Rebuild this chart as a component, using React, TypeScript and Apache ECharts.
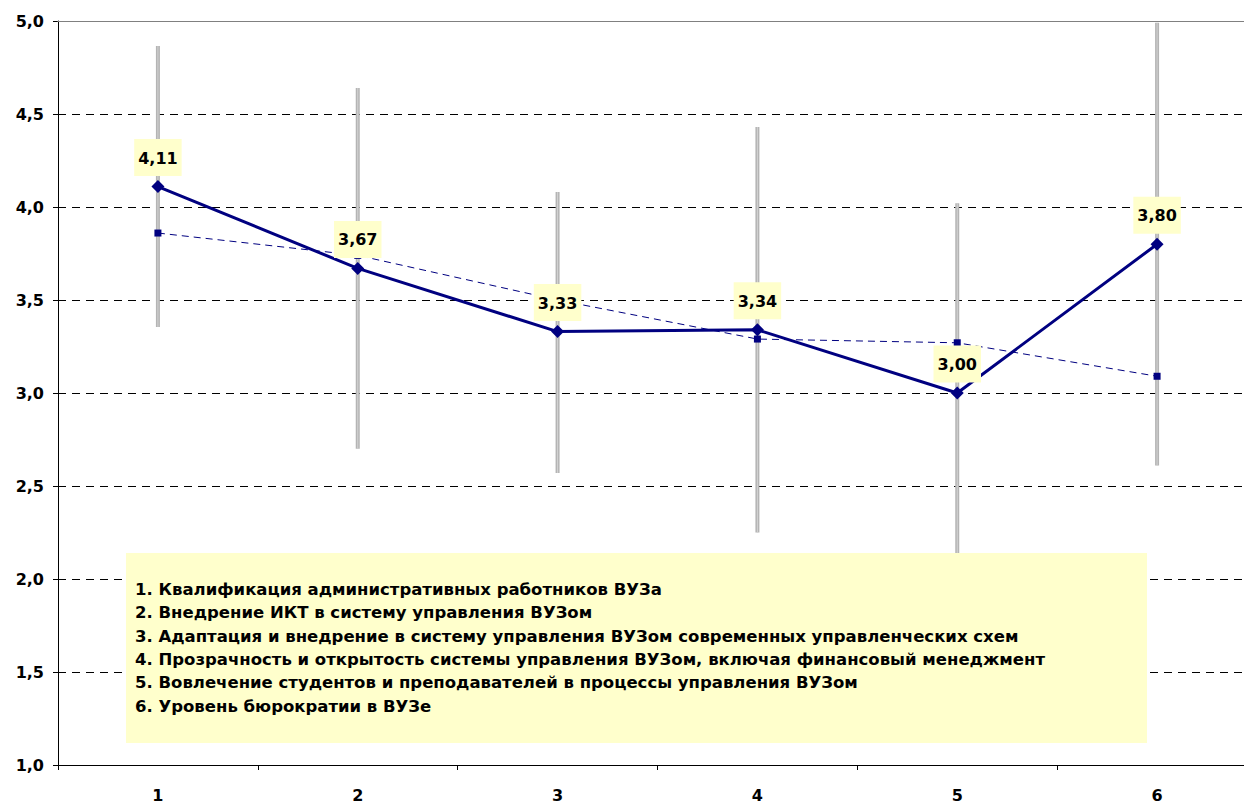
import React, { useEffect, useRef } from "react";
import * as echarts from "echarts";

const categories = ["1", "2", "3", "4", "5", "6"];
const meanValues = [4.11, 3.67, 3.33, 3.34, 3.0, 3.8];
const refValues = [3.86, 3.74, 3.5, 3.29, 3.27, 3.09];
const errLow = [3.355, 2.7, 2.57, 2.25, 1.98, 2.61];
const errHigh = [4.865, 4.64, 4.08, 4.43, 4.02, 4.99];
const yTicks = { min: 1, max: 5, interval: 0.5 };
const legendLines = [
  "1. Квалификация административных работников ВУЗа",
  "2. Внедрение ИКТ в систему управления ВУЗом",
  "3. Адаптация и внедрение в систему управления ВУЗом современных управленческих схем",
  "4. Прозрачность и открытость системы управления ВУЗом, включая финансовый менеджмент",
  "5. Вовлечение студентов и преподавателей в процессы управления ВУЗом",
  "6. Уровень бюрократии в ВУЗе",
];

const FONT = "'DejaVu Sans', sans-serif";

export default function App() {
  const ref = useRef<HTMLDivElement>(null);
  useEffect(() => {
    if (!ref.current) return;
    const chart = echarts.init(ref.current, undefined, { renderer: "svg" });
    const errData = categories.map((_, i) => [i, errLow[i], errHigh[i]]);
    chart.setOption({
      animation: false,
      backgroundColor: "#ffffff",
      grid: { left: 58, top: 21, bottom: 37, right: 3 },
      xAxis: [
        {
          type: "category",
          data: categories,
          boundaryGap: true,
          axisLine: { lineStyle: { color: "#000000", width: 1 } },
          axisTick: { show: true, length: 5, lineStyle: { color: "#000000" } },
          axisLabel: {
            color: "#000000",
            fontFamily: FONT,
            fontWeight: "bold",
            fontSize: 16,
            margin: 22,
          },
          splitLine: { show: false },
        },
        {
          type: "category",
          data: categories,
          position: "top",
          z: 5,
          axisLine: { lineStyle: { color: "#808080", width: 1 } },
          axisTick: { show: false },
          axisLabel: { show: false },
          splitLine: { show: false },
        },
      ],
      yAxis: {
        type: "value",
        min: yTicks.min,
        max: yTicks.max,
        interval: yTicks.interval,
        axisLine: { show: true, lineStyle: { color: "#000000", width: 1 } },
        axisTick: { show: true, length: 5, lineStyle: { color: "#000000" } },
        axisLabel: {
          color: "#000000",
          fontFamily: FONT,
          fontWeight: "bold",
          fontSize: 16,
          margin: 14,
          formatter: (v: number) => v.toFixed(1).replace(".", ","),
        },
        splitLine: {
          show: true,
          lineStyle: { color: "#000000", type: [8, 6], width: 1 },
        },
      },
      series: [
        {
          type: "custom",
          z: 1,
          data: errData,
          silent: true,
          renderItem: (params: any, api: any) => {
            const p1 = api.coord([api.value(0), api.value(1)]);
            const p2 = api.coord([api.value(0), api.value(2)]);
            return {
              type: "group",
              children: [
                {
                  type: "line",
                  shape: { x1: p1[0], y1: p1[1], x2: p2[0], y2: p2[1] },
                  style: { stroke: "#b4b4b4", lineWidth: 4 },
                },
                {
                  type: "line",
                  shape: { x1: p1[0], y1: p1[1], x2: p2[0], y2: p2[1] },
                  style: { stroke: "#d4d4d4", lineWidth: 1 },
                },
              ],
            };
          },
        },
        {
          type: "line",
          z: 3,
          data: refValues,
          symbol: "rect",
          symbolSize: 7,
          itemStyle: { color: "#000080" },
          lineStyle: { color: "#000080", width: 1, type: [7, 5] },
          label: { show: false },
        },
        {
          type: "line",
          z: 4,
          data: meanValues,
          symbol: "diamond",
          symbolSize: 13,
          itemStyle: { color: "#000080" },
          lineStyle: { color: "#000080", width: 3 },
          label: {
            show: true,
            position: "top",
            distance: 4,
            formatter: (p: any) => Number(p.value).toFixed(2).replace(".", ","),
            backgroundColor: "#ffffcc",
            padding: [9, 4, 8, 4],
            lineHeight: 20,
            color: "#000000",
            fontFamily: FONT,
            fontWeight: "bold",
            fontSize: 16,
          },
        },
      ],
      graphic: [
        {
          type: "rect",
          z: 10,
          left: 126,
          top: 553,
          shape: { width: 1021, height: 190 },
          style: { fill: "#ffffcc" },
        },
        {
          type: "text",
          z: 11,
          left: 135,
          top: 578,
          style: {
            text: legendLines.join("\n"),
            font: `bold 16.5px ${FONT}`,
            lineHeight: 23.3,
            fill: "#000000",
          },
        },
      ],
    });
    return () => chart.dispose();
  }, []);
  return (
    <div style={{ position: "fixed", left: 0, top: 0, width: 1244, height: 803, overflow: "hidden" }}>
      <div ref={ref} style={{ width: 1260, height: 803 }} />
    </div>
  );
}
